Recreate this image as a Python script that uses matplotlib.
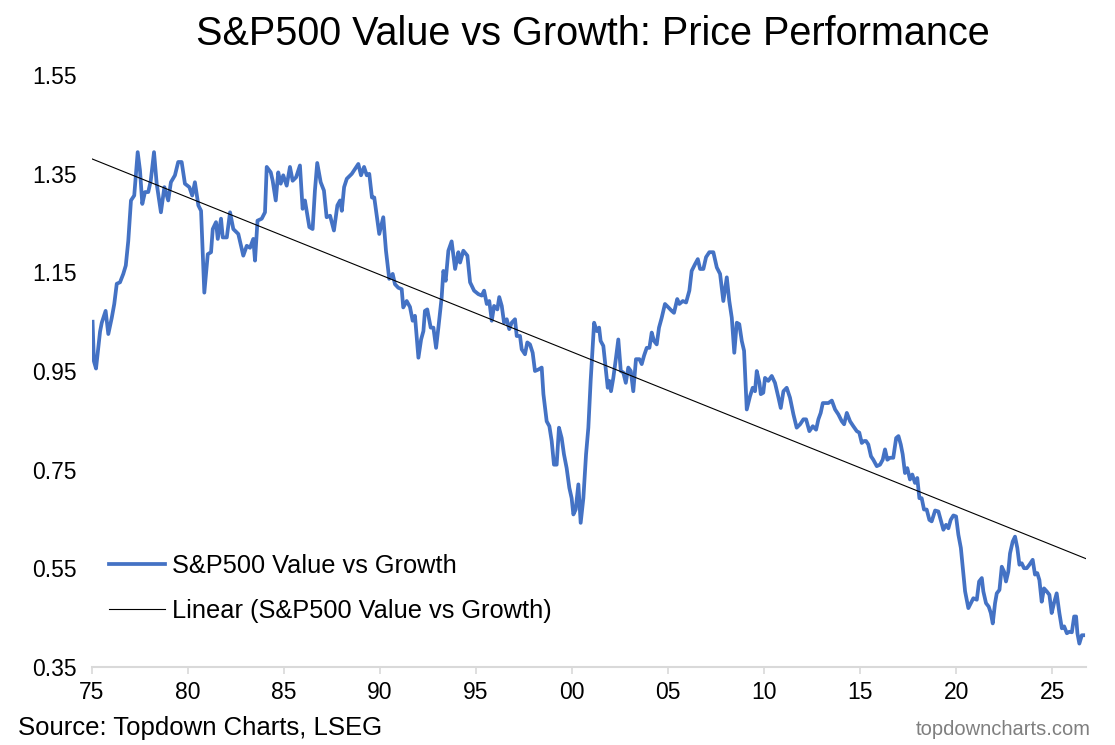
import numpy as np
import matplotlib
matplotlib.use("Agg")
import matplotlib.pyplot as plt

plt.rcParams['font.family'] = ['Liberation Sans', 'DejaVu Sans']

title = "S&P500 Value vs Growth: Price Performance"
series_name = "S&P500 Value vs Growth"
trend_name = "Linear (S&P500 Value vs Growth)"
source_text = "Source: Topdown Charts, LSEG"
site_text = "topdowncharts.com"

years = [
    1975.03, 1975.10, 1975.21, 1975.31, 1975.42, 1975.51, 1975.71, 1975.85, 1976.03, 1976.16,
    1976.29, 1976.46, 1976.63, 1976.76, 1976.89, 1977.03, 1977.20, 1977.38, 1977.50, 1977.62,
    1977.76, 1977.93, 1978.06, 1978.23, 1978.37, 1978.59, 1978.77, 1978.97, 1979.11, 1979.32,
    1979.49, 1979.67, 1979.84, 1980.07, 1980.22, 1980.36, 1980.54, 1980.68, 1980.85, 1981.03,
    1981.20, 1981.29, 1981.46, 1981.55, 1981.72, 1981.81, 1982.02, 1982.19, 1982.36, 1982.62,
    1982.88, 1983.06, 1983.23, 1983.40, 1983.49, 1983.62, 1983.84, 1984.01, 1984.10, 1984.31,
    1984.41, 1984.57, 1984.70, 1984.83, 1984.96, 1985.14, 1985.31, 1985.45, 1985.63, 1985.83,
    1985.97, 1986.09, 1986.32, 1986.49, 1986.61, 1986.73, 1986.91, 1987.08, 1987.22, 1987.40,
    1987.60, 1987.78, 1987.92, 1988.01, 1988.13, 1988.27, 1988.53, 1988.70, 1988.87, 1989.01,
    1989.17, 1989.31, 1989.44, 1989.58, 1989.70, 1989.83, 1989.96, 1990.17, 1990.31, 1990.48,
    1990.66, 1990.78, 1990.95, 1991.13, 1991.21, 1991.39, 1991.56, 1991.70, 1991.82, 1992.00,
    1992.14, 1992.26, 1992.34, 1992.46, 1992.64, 1992.78, 1992.92, 1993.04, 1993.21, 1993.30,
    1993.42, 1993.56, 1993.73, 1993.91, 1994.08, 1994.17, 1994.34, 1994.55, 1994.69, 1994.90,
    1995.12, 1995.30, 1995.42, 1995.56, 1995.69, 1995.82, 1995.94, 1996.11, 1996.21, 1996.34,
    1996.46, 1996.60, 1996.73, 1996.86, 1997.03, 1997.12, 1997.29, 1997.38, 1997.55, 1997.67,
    1997.81, 1997.95, 1998.07, 1998.25, 1998.42, 1998.51, 1998.68, 1998.82, 1998.94, 1999.06,
    1999.20, 1999.32, 1999.46, 1999.58, 1999.72, 1999.86, 1999.98, 2000.07, 2000.19, 2000.33,
    2000.45, 2000.59, 2000.73, 2000.85, 2000.97, 2001.15, 2001.29, 2001.41, 2001.49, 2001.63,
    2001.77, 2001.86, 2001.94, 2002.03, 2002.15, 2002.29, 2002.41, 2002.54, 2002.67, 2002.80,
    2002.93, 2003.06, 2003.19, 2003.33, 2003.51, 2003.63, 2003.75, 2003.89, 2004.03, 2004.15,
    2004.27, 2004.41, 2004.53, 2004.67, 2004.84, 2005.02, 2005.19, 2005.31, 2005.48, 2005.59,
    2005.77, 2005.94, 2006.11, 2006.23, 2006.41, 2006.55, 2006.67, 2006.84, 2006.98, 2007.15,
    2007.36, 2007.54, 2007.71, 2007.88, 2008.06, 2008.19, 2008.32, 2008.45, 2008.58, 2008.71,
    2008.84, 2008.96, 2009.10, 2009.27, 2009.41, 2009.53, 2009.62, 2009.76, 2009.83, 2009.96,
    2010.05, 2010.22, 2010.40, 2010.57, 2010.75, 2010.87, 2011.01, 2011.18, 2011.35, 2011.53,
    2011.70, 2011.88, 2012.05, 2012.19, 2012.36, 2012.54, 2012.71, 2012.83, 2012.95, 2013.06,
    2013.23, 2013.35, 2013.53, 2013.70, 2013.87, 2014.05, 2014.17, 2014.31, 2014.48, 2014.65,
    2014.83, 2014.96, 2015.09, 2015.21, 2015.31, 2015.43, 2015.57, 2015.69, 2015.87, 2016.04,
    2016.18, 2016.30, 2016.42, 2016.56, 2016.73, 2016.88, 2017.00, 2017.12, 2017.22, 2017.34,
    2017.46, 2017.60, 2017.72, 2017.86, 2017.98, 2018.09, 2018.21, 2018.33, 2018.47, 2018.61,
    2018.73, 2018.91, 2019.08, 2019.20, 2019.34, 2019.48, 2019.60, 2019.72, 2019.86, 2020.00,
    2020.12, 2020.25, 2020.35, 2020.47, 2020.64, 2020.77, 2020.90, 2021.08, 2021.20, 2021.34,
    2021.42, 2021.56, 2021.70, 2021.81, 2021.91, 2022.03, 2022.12, 2022.26, 2022.38, 2022.50,
    2022.60, 2022.72, 2022.81, 2022.95, 2023.07, 2023.19, 2023.30, 2023.42, 2023.54, 2023.68,
    2023.82, 2023.99, 2024.11, 2024.23, 2024.34, 2024.46, 2024.58, 2024.72, 2024.86, 2024.98,
    2025.10, 2025.24, 2025.38, 2025.51, 2025.63, 2025.77, 2025.90, 2026.03, 2026.15, 2026.25,
    2026.32, 2026.42, 2026.55, 2026.62,
]

values = [
    1.050, 0.970, 0.955, 0.990, 1.030, 1.048, 1.072, 1.025, 1.058, 1.086,
    1.127, 1.130, 1.147, 1.164, 1.214, 1.296, 1.306, 1.394, 1.357, 1.289,
    1.313, 1.313, 1.336, 1.394, 1.330, 1.272, 1.323, 1.296, 1.333, 1.347,
    1.374, 1.374, 1.330, 1.323, 1.306, 1.333, 1.286, 1.275, 1.109, 1.187,
    1.191, 1.238, 1.252, 1.218, 1.259, 1.221, 1.221, 1.272, 1.238, 1.228,
    1.184, 1.204, 1.200, 1.218, 1.174, 1.255, 1.259, 1.272, 1.364, 1.353,
    1.336, 1.296, 1.353, 1.330, 1.347, 1.326, 1.364, 1.336, 1.343, 1.367,
    1.279, 1.296, 1.242, 1.238, 1.316, 1.372, 1.333, 1.316, 1.262, 1.265,
    1.235, 1.286, 1.296, 1.275, 1.323, 1.340, 1.350, 1.360, 1.370, 1.347,
    1.364, 1.347, 1.350, 1.302, 1.302, 1.265, 1.228, 1.262, 1.194, 1.137,
    1.147, 1.126, 1.119, 1.116, 1.079, 1.092, 1.080, 1.052, 1.062, 0.977,
    1.014, 1.031, 1.072, 1.075, 1.038, 1.038, 0.997, 1.038, 1.099, 1.153,
    1.133, 1.194, 1.213, 1.157, 1.191, 1.170, 1.194, 1.184, 1.130, 1.113,
    1.106, 1.103, 1.113, 1.086, 1.092, 1.052, 1.082, 1.075, 1.100, 1.082,
    1.048, 1.055, 1.035, 1.048, 1.055, 1.021, 1.021, 0.994, 0.984, 1.008,
    1.004, 0.987, 0.950, 0.953, 0.957, 0.903, 0.848, 0.838, 0.808, 0.760,
    0.760, 0.835, 0.814, 0.781, 0.753, 0.713, 0.692, 0.659, 0.669, 0.720,
    0.642, 0.692, 0.781, 0.835, 0.930, 1.048, 1.031, 1.038, 1.011, 1.001,
    0.950, 0.916, 0.930, 0.909, 0.936, 0.977, 1.014, 0.950, 0.947, 0.926,
    0.957, 0.950, 0.909, 0.974, 0.974, 0.964, 0.981, 0.997, 0.997, 1.028,
    1.011, 1.004, 1.038, 1.058, 1.086, 1.079, 1.072, 1.068, 1.096, 1.086,
    1.092, 1.089, 1.113, 1.153, 1.167, 1.177, 1.157, 1.157, 1.181, 1.191,
    1.191, 1.160, 1.147, 1.092, 1.140, 1.092, 1.058, 0.987, 1.048, 1.045,
    1.011, 0.991, 0.872, 0.899, 0.916, 0.909, 0.950, 0.926, 0.903, 0.906,
    0.936, 0.930, 0.940, 0.926, 0.896, 0.875, 0.909, 0.916, 0.896, 0.862,
    0.835, 0.842, 0.852, 0.852, 0.828, 0.838, 0.831, 0.852, 0.865, 0.885,
    0.885, 0.885, 0.890, 0.872, 0.862, 0.848, 0.842, 0.865, 0.848, 0.838,
    0.828, 0.825, 0.804, 0.808, 0.808, 0.801, 0.777, 0.770, 0.757, 0.760,
    0.770, 0.791, 0.770, 0.774, 0.774, 0.814, 0.818, 0.801, 0.781, 0.743,
    0.753, 0.730, 0.740, 0.723, 0.733, 0.692, 0.692, 0.669, 0.669, 0.648,
    0.645, 0.667, 0.665, 0.648, 0.628, 0.638, 0.631, 0.648, 0.657, 0.655,
    0.618, 0.591, 0.550, 0.503, 0.469, 0.479, 0.489, 0.486, 0.523, 0.530,
    0.503, 0.479, 0.472, 0.459, 0.438, 0.479, 0.499, 0.506, 0.553, 0.543,
    0.523, 0.543, 0.580, 0.604, 0.614, 0.591, 0.557, 0.560, 0.550, 0.550,
    0.557, 0.567, 0.537, 0.540, 0.526, 0.482, 0.509, 0.503, 0.496, 0.459,
    0.479, 0.499, 0.459, 0.428, 0.432, 0.418, 0.421, 0.420, 0.452, 0.452,
    0.418, 0.397, 0.414, 0.414,
]

x_ticks = [1975, 1980, 1985, 1990, 1995, 2000, 2005, 2010, 2015, 2020, 2025]
x_tick_labels = ['75', '80', '85', '90', '95', '00', '05', '10', '15', '20', '25']
y_ticks = [0.35, 0.55, 0.75, 0.95, 1.15, 1.35, 1.55]
y_tick_labels = ['0.35', '0.55', '0.75', '0.95', '1.15', '1.35', '1.55']

x_min, x_max = 1975.0, 2026.75

fig = plt.figure(figsize=(11.15, 7.45), dpi=100)
ax = fig.add_axes([0.0825, 0.105, 0.8912, 0.794])

x = np.array(years)
y = np.array(values)
ax.plot(x, y, color='#4472C4', lw=2.7, solid_joinstyle='round', label=series_name, zorder=3)

coef = np.polyfit(x, y, 1)
tx = np.array([x_min, x_max])
ax.plot(tx, np.polyval(coef, tx), color='black', lw=0.8, label=trend_name, zorder=4)

ax.set_xlim(x_min, x_max)
ax.set_ylim(0.35, 1.55)
ax.set_xticks(x_ticks)
ax.set_xticklabels(x_tick_labels)
ax.set_yticks(y_ticks)
ax.set_yticklabels(y_tick_labels)

for s in ['top', 'right', 'left']:
    ax.spines[s].set_visible(False)
ax.spines['bottom'].set_color('#d9d9d9')
ax.spines['bottom'].set_linewidth(1.5)
ax.tick_params(axis='x', length=5, width=1.2, color='#d9d9d9', labelsize=16.5, pad=5, direction='out')
ax.tick_params(axis='y', length=0, labelsize=16.5, pad=11)

fig.suptitle(title, x=0.532, y=0.98, fontsize=28.5, va='top')

leg = ax.legend(loc='lower left', bbox_to_anchor=(-0.006, 0.035), frameon=False, fontsize=18.3,
                handlelength=2.2, handletextpad=0.3, labelspacing=0.83, borderaxespad=0.5)

fig.text(0.016, 0.013, source_text, fontsize=18.5, ha='left', va='baseline', color='black')
fig.text(0.978, 0.013, site_text, fontsize=14.5, ha='right', va='baseline', color='#7f7f7f')

fig.savefig('out.png', dpi=100)
